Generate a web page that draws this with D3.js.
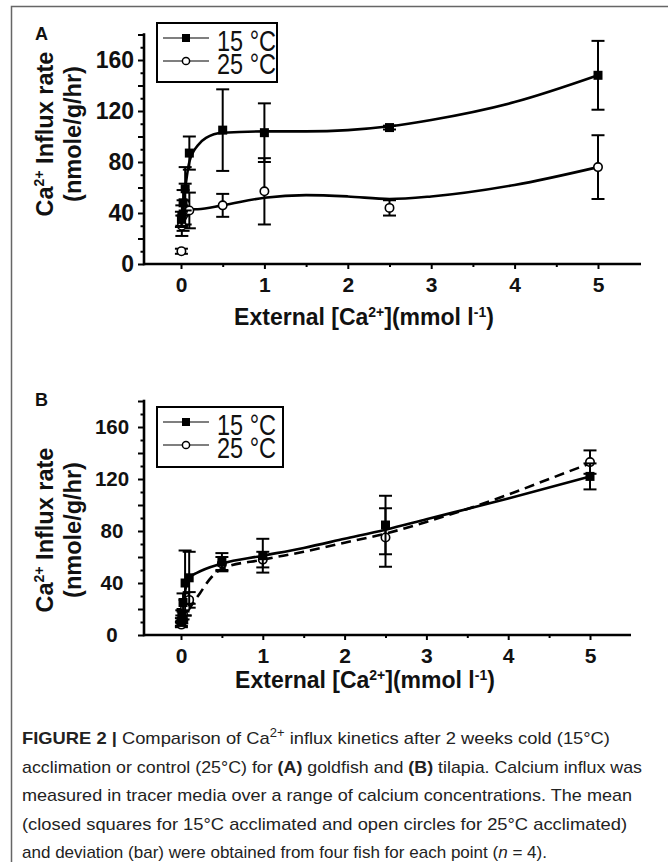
<!DOCTYPE html>
<html>
<head>
<meta charset="utf-8">
<script src="https://cdn.jsdelivr.net/npm/d3@7"></script>
<style>
  html, body { margin: 0; padding: 0; background: #fff; }
  svg { display: block; }
  text { font-family: "Liberation Sans", Arial, sans-serif; }
</style>
</head>
<body>
<svg id="fig" width="668" height="862"></svg>
<script>
// ---------- DATA ----------
const concentrations = [0.005, 0.01, 0.025, 0.05, 0.1, 0.5, 1, 2.5, 5];
const seriesNames = ["15 °C", "25 °C"];

// Panel A (goldfish)
const goldfish15Mean = [35, 38, 48, 59, 87, 105, 103, 107, 148];
const goldfish15Err  = [6, 8, 10, 17, 13, 32, 23, 1.5, 27];
const goldfish25Mean = [10, 30, 38, 47, 42, 46, 57, 44, 76];
const goldfish25Err  = [2, 8, 12, 16, 14, 9, 26, 6, 25];
const goldfish15FitX = [0, 0.03, 0.06, 0.1, 0.2, 0.3, 0.5, 1, 1.5, 2, 2.5, 3, 4, 5];
const goldfish15FitY = [33, 48, 64, 80, 93, 99, 103, 104, 104, 105, 108, 113, 127, 148];
const goldfish25FitX = [0, 0.03, 0.07, 0.1, 0.2, 0.5, 1, 1.5, 2, 2.5, 3, 4, 5];
const goldfish25FitY = [28, 38, 43, 43, 43, 46, 52, 54, 53, 51, 53, 62, 76];

// Panel B (tilapia)
const tilapia15Mean = [10, 15, 25, 40, 44, 56, 61, 84.6, 122];
const tilapia15Err  = [3, 4, 7, 25, 20, 7, 13, 22.5, 10];
const tilapia25Mean = [8, 12, 16, 21, 27, 55, 58, 75, 133];
const tilapia25Err  = [2, 3, 4, 6, 6, 5, 6, 22.5, 9];
const tilapia15FitX = [0, 0.03, 0.07, 0.1, 0.2, 0.5, 1, 1.5, 2, 2.5, 3, 4, 5];
const tilapia15FitY = [10, 25, 40, 44, 48, 55, 61, 67, 74, 81, 89, 105, 122];
const tilapia25FitX = [0, 0.1, 0.23, 0.38, 0.5, 1, 1.5, 2, 2.5, 3, 3.5, 4, 4.5, 5];
const tilapia25FitY = [8, 20, 32, 45, 51, 58, 64, 71, 78, 87, 97, 108, 120, 132];

const yMajorTicks = [0, 20, 40, 60, 80, 100, 120, 140, 160, 180];
const yLabelTicks = [0, 40, 80, 120, 160];
const yMinorTicks = [10, 30, 50, 70, 90, 110, 130, 150, 170];
const xMajorTicks = [0, 1, 2, 3, 4, 5];
const xMinorTicks = [0.5, 1.5, 2.5, 3.5, 4.5];

// ---------- DRAW ----------
const svg = d3.select("#fig");

// figure frame
svg.append("path").attr("d", "M11.5,862 L11.5,6.5 L668,6.5")
  .attr("fill", "none").attr("stroke", "#666").attr("stroke-width", 1.5);

function drawPanel(cfg) {
  const g = svg.append("g");
  const x = d3.scaleLinear().domain([0, 5]).range([cfg.x0, cfg.x5]);
  const y = d3.scaleLinear().domain([0, 160]).range([cfg.y0, cfg.y160]);
  const axisLeftX = 144;

  // axes lines
  g.append("line").attr("x1", axisLeftX).attr("x2", cfg.xEnd)
    .attr("y1", cfg.y0).attr("y2", cfg.y0).attr("stroke", "#000").attr("stroke-width", 2.6);
  g.append("line").attr("x1", axisLeftX).attr("x2", axisLeftX)
    .attr("y1", cfg.y0 + 1.3).attr("y2", y(181)).attr("stroke", "#000").attr("stroke-width", 2.6);

  // y ticks
  const ya = g.append("g").attr("transform", `translate(${axisLeftX},0)`)
    .call(d3.axisLeft(y).tickValues(yMajorTicks).tickSize(6).tickSizeOuter(0)
      .tickFormat(d => yLabelTicks.includes(d) ? d : ""));
  ya.select(".domain").remove();
  ya.selectAll(".tick line").attr("stroke", "#000").attr("stroke-width", 2);
  ya.selectAll(".tick text").attr("font-size", cfg.yFont).attr("font-weight", "bold")
    .attr("fill", "#111").attr("font-family", "Liberation Sans, Arial, sans-serif")
    .attr("x", cfg.yLabelX - axisLeftX).attr("text-anchor", cfg.yAnchor);
  const ym = g.append("g").attr("transform", `translate(${axisLeftX},0)`)
    .call(d3.axisLeft(y).tickValues(yMinorTicks).tickSize(3.5).tickFormat(""));
  ym.select(".domain").remove();
  ym.selectAll(".tick line").attr("stroke", "#000").attr("stroke-width", 2);

  // x ticks
  const xa = g.append("g").attr("transform", `translate(0,${cfg.y0})`)
    .call(d3.axisBottom(x).tickValues(xMajorTicks).tickSize(5).tickSizeOuter(0)
      .tickFormat(d3.format("d")));
  xa.select(".domain").remove();
  xa.selectAll(".tick line").attr("stroke", "#000").attr("stroke-width", 2);
  xa.selectAll(".tick text").attr("font-size", cfg.xFont).attr("font-weight", "bold")
    .attr("fill", "#111").attr("font-family", "Liberation Sans, Arial, sans-serif")
    .attr("y", cfg.xLabelDy).attr("dy", 0);
  const xm = g.append("g").attr("transform", `translate(0,${cfg.y0})`)
    .call(d3.axisBottom(x).tickValues(xMinorTicks).tickSize(3).tickFormat(""));
  xm.select(".domain").remove();
  xm.selectAll(".tick line").attr("stroke", "#000").attr("stroke-width", 2);

  // axis titles
  const yt = g.append("g").attr("transform", `translate(${cfg.yTitleX1},${cfg.yTitleCy}) rotate(-90)`);
  const t1 = yt.append("text").attr("text-anchor", "middle").attr("font-size", 23.5)
    .attr("font-weight", "bold").attr("fill", "#111");
  t1.append("tspan").text("Ca");
  t1.append("tspan").attr("font-size", 14).attr("dy", -9).text("2+");
  t1.append("tspan").attr("dy", 9).text(" Influx rate");
  g.append("text").attr("transform", `translate(${cfg.yTitleX2},${cfg.yTitleCy}) rotate(-90)`)
    .attr("text-anchor", "middle").attr("font-size", 23.5).attr("font-weight", "bold")
    .attr("fill", "#111").text("(nmole/g/hr)");

  const xt = g.append("text").attr("x", cfg.xTitleX).attr("y", cfg.xTitleY)
    .attr("text-anchor", "middle").attr("font-size", 23).attr("font-weight", "bold").attr("fill", "#111");
  xt.append("tspan").text("External [Ca");
  xt.append("tspan").attr("font-size", 14).attr("dy", -8).text("2+");
  xt.append("tspan").attr("dy", 8).text("](mmol l");
  xt.append("tspan").attr("font-size", 14).attr("dy", -8).text("-1");
  xt.append("tspan").attr("dy", 8).text(")");

  // panel letter
  g.append("text").attr("x", 35).attr("y", cfg.letterY).attr("font-size", 18)
    .attr("font-weight", "bold").attr("fill", "#111").text(cfg.letter);

  // fit curves
  const line = d3.line().x(d => x(d[0])).y(d => y(d[1])).curve(d3.curveMonotoneX);
  cfg.fits.forEach(f => {
    g.append("path").attr("d", line(d3.zip(f.xs, f.ys)))
      .attr("fill", "none").attr("stroke", "#000").attr("stroke-width", 2.6)
      .attr("stroke-dasharray", f.dash || null);
  });

  // error bars + markers
  cfg.series.forEach(s => {
    const pts = concentrations.map((c, i) => ({ c, m: s.mean[i], e: s.err[i] }));
    const eb = g.append("g");
    pts.forEach(p => {
      const cx = x(p.c);
      eb.append("line").attr("x1", cx).attr("x2", cx).attr("y1", y(p.m - p.e)).attr("y2", y(p.m + p.e))
        .attr("stroke", "#000").attr("stroke-width", 2);
      [p.m - p.e, p.m + p.e].forEach(v => {
        eb.append("line").attr("x1", cx - 6.5).attr("x2", cx + 6.5).attr("y1", y(v)).attr("y2", y(v))
          .attr("stroke", "#000").attr("stroke-width", 2);
      });
    });
    pts.forEach(p => {
      if (s.shape === "square") {
        g.append("rect").attr("x", x(p.c) - 4.5).attr("y", y(p.m) - 4.5).attr("width", 9).attr("height", 9)
          .attr("fill", "#000");
      } else {
        g.append("circle").attr("cx", x(p.c)).attr("cy", y(p.m)).attr("r", 4.2)
          .attr("fill", "#fff").attr("stroke", "#000").attr("stroke-width", 1.6);
      }
    });
  });

  // legend
  const lg = g.append("g");
  lg.append("rect").attr("x", cfg.leg.x).attr("y", cfg.leg.y).attr("width", cfg.leg.w).attr("height", cfg.leg.h)
    .attr("fill", "#fff").attr("stroke", "#000").attr("stroke-width", 2);
  seriesNames.forEach((name, i) => {
    const ly = cfg.leg.y + cfg.leg.rows[i];
    lg.append("line").attr("x1", cfg.leg.x + 6).attr("x2", cfg.leg.x + 52).attr("y1", ly).attr("y2", ly)
      .attr("stroke", "#000").attr("stroke-width", 1.2);
    if (i === 0) {
      lg.append("rect").attr("x", cfg.leg.x + 29 - 4).attr("y", ly - 4).attr("width", 8).attr("height", 8).attr("fill", "#000");
    } else {
      lg.append("circle").attr("cx", cfg.leg.x + 29).attr("cy", ly).attr("r", 3.6)
        .attr("fill", "#fff").attr("stroke", "#000").attr("stroke-width", 1.5);
    }
    lg.append("text").attr("x", cfg.leg.x + 60).attr("y", ly + 12.5).attr("font-size", 29)
      .attr("textLength", 59).attr("lengthAdjust", "spacingAndGlyphs")
      .attr("fill", "#111").text(name);
  });
}

drawPanel({
  letter: "A", letterY: 40,
  x0: 181, x5: 598, xEnd: 641, y0: 264, y160: 60,
  yFont: 23, yLabelX: 134, yAnchor: "end",
  xFont: 21, xLabelDy: 28,
  yTitleX1: 53, yTitleX2: 81, yTitleCy: 134,
  xTitleX: 364, xTitleY: 325,
  leg: { x: 157, y: 23, w: 120, h: 59, rows: [15, 38] },
  fits: [
    { xs: goldfish15FitX, ys: goldfish15FitY },
    { xs: goldfish25FitX, ys: goldfish25FitY }
  ],
  series: [
    { mean: goldfish25Mean, err: goldfish25Err, shape: "circle" },
    { mean: goldfish15Mean, err: goldfish15Err, shape: "square" }
  ]
});

drawPanel({
  letter: "B", letterY: 406,
  x0: 181, x5: 590, xEnd: 631, y0: 635, y160: 427,
  yFont: 20.5, yLabelX: 112, yAnchor: "middle",
  xFont: 21, xLabelDy: 28,
  yTitleX1: 53, yTitleX2: 81, yTitleCy: 530,
  xTitleX: 365, xTitleY: 688,
  leg: { x: 157, y: 407, w: 126, h: 60, rows: [15, 38] },
  fits: [
    { xs: tilapia15FitX, ys: tilapia15FitY },
    { xs: tilapia25FitX, ys: tilapia25FitY, dash: "10,6" }
  ],
  series: [
    { mean: tilapia25Mean, err: tilapia25Err, shape: "circle" },
    { mean: tilapia15Mean, err: tilapia15Err, shape: "square" }
  ]
});

// ---------- CAPTION ----------
const cap = svg.append("g").attr("fill", "#222").attr("font-size", 17);
const capLines = [
  { y: 744, w: 588, parts: [{ t: "FIGURE 2 |", b: true }, { t: " Comparison of Ca" }, { t: "2+", sup: true }, { t: " influx kinetics after 2 weeks cold (15°C)" }] },
  { y: 772.5, w: 620, parts: [{ t: "acclimation or control (25°C) for " }, { t: "(A)", b: true }, { t: " goldfish and " }, { t: "(B)", b: true }, { t: " tilapia. Calcium influx was" }] },
  { y: 801, w: 610, parts: [{ t: "measured in tracer media over a range of calcium concentrations. The mean" }] },
  { y: 829.5, w: 605, parts: [{ t: "(closed squares for 15°C acclimated and open circles for 25°C acclimated)" }] },
  { y: 857.5, w: 525, parts: [{ t: "and deviation (bar) were obtained from four fish for each point (" }, { t: "n", i: true }, { t: " = 4)." }] }
];
capLines.forEach(l => {
  const t = cap.append("text").attr("x", 22).attr("y", l.y)
    .attr("textLength", l.w).attr("lengthAdjust", "spacingAndGlyphs");
  let shift = 0;
  l.parts.forEach(p => {
    const ts = t.append("tspan").text(p.t);
    if (p.b) ts.attr("font-weight", "bold");
    if (p.i) ts.attr("font-style", "italic");
    if (p.sup) { ts.attr("font-size", 12).attr("dy", -7); shift = 7; }
    else if (shift) { ts.attr("dy", shift); shift = 0; }
  });
});
</script>
</body>
</html>
